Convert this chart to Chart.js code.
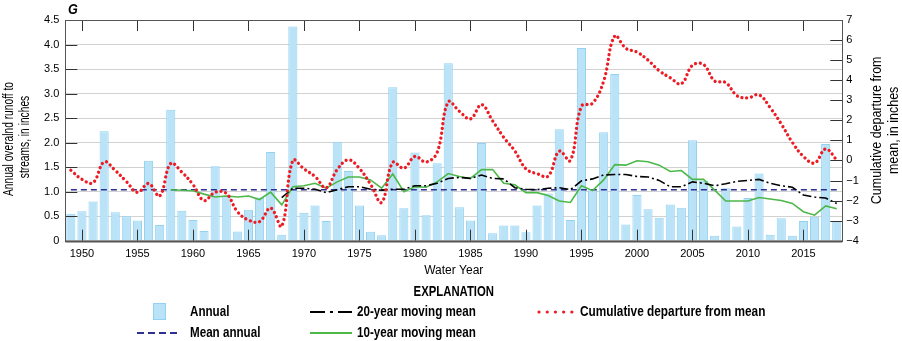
<!DOCTYPE html>
<html>
<head>
<meta charset="utf-8">
<script src="https://cdn.jsdelivr.net/npm/chart.js@4.4.1/dist/chart.umd.min.js"></script>
<style>
  html, body { margin: 0; padding: 0; background: #fff; }
  #runoffChart { display: block; }
</style>
</head>
<body>
<canvas id="runoffChart" width="902" height="341"></canvas>
<script>
const FONT = "'Liberation Sans', Arial, sans-serif";

// Water years on the x axis
const years = [
  1949, 1950, 1951, 1952, 1953, 1954, 1955, 1956, 1957, 1958,
  1959, 1960, 1961, 1962, 1963, 1964, 1965, 1966, 1967, 1968,
  1969, 1970, 1971, 1972, 1973, 1974, 1975, 1976, 1977, 1978,
  1979, 1980, 1981, 1982, 1983, 1984, 1985, 1986, 1987, 1988,
  1989, 1990, 1991, 1992, 1993, 1994, 1995, 1996, 1997, 1998,
  1999, 2000, 2001, 2002, 2003, 2004, 2005, 2006, 2007, 2008,
  2009, 2010, 2011, 2012, 2013, 2014, 2015, 2016, 2017, 2018
];

// Annual overland runoff to streams, inches
const annualRunoff = [
  0.55, 0.60, 0.80, 2.23, 0.58, 0.50, 0.41, 1.63, 0.32, 2.67,
  0.61, 0.42, 0.20, 1.52, 0.90, 0.19, 0.63, 0.88, 1.81, 0.12,
  4.37, 0.57, 0.72, 0.40, 2.02, 1.42, 0.72, 0.18, 0.11, 3.13,
  0.66, 1.80, 0.52, 1.58, 3.62, 0.68, 0.41, 1.99, 0.15, 0.31,
  0.31, 0.17, 0.72, 0.96, 2.27, 0.42, 3.93, 1.03, 2.21, 3.40,
  0.33, 0.93, 0.64, 0.47, 0.74, 0.67, 2.05, 1.22, 0.10, 1.07,
  0.29, 0.87, 1.37, 0.12, 0.46, 0.10, 0.40, 0.49, 1.97, 0.40
];

const meanAnnual = 1.04;

// 10-year moving mean (first value 1958)
const movingMean10 = [
  null, null, null, null, null, null, null, null, null, 1.04,
  1.03, 1.02, 0.95, 0.89, 0.91, 0.89, 0.91, 0.84, 0.99, 0.73,
  1.10, 1.12, 1.17, 1.07, 1.20, 1.30, 1.30, 1.24, 1.07, 1.36,
  1.00, 1.10, 1.09, 1.20, 1.37, 1.31, 1.27, 1.45, 1.45, 1.17,
  1.14, 0.98, 0.98, 0.92, 0.81, 0.78, 1.12, 1.02, 1.24, 1.55,
  1.54, 1.63, 1.61, 1.54, 1.41, 1.43, 1.25, 1.25, 1.03, 0.81,
  0.81, 0.81, 0.88, 0.85, 0.82, 0.76, 0.59, 0.52, 0.71, 0.65
];

// 20-year moving mean (first value 1968)
const movingMean20 = [
  null, null, null, null, null, null, null, null, null, null,
  null, null, null, null, null, null, null, null, null, 0.88,
  1.07, 1.07, 1.05, 0.98, 1.04, 1.10, 1.10, 1.05, 1.03, 1.05,
  1.05, 1.12, 1.12, 1.17, 1.27, 1.29, 1.27, 1.34, 1.27, 1.26,
  1.08, 1.05, 1.04, 1.07, 1.08, 1.04, 1.22, 1.26, 1.34, 1.35,
  1.35, 1.31, 1.30, 1.23, 1.10, 1.10, 1.20, 1.17, 1.12, 1.16,
  1.21, 1.23, 1.25, 1.17, 1.12, 1.09, 0.93, 0.89, 0.87, 0.76
];

// Cumulative departure from mean, inches (right axis)
const cumDeparture = [
  -0.49, -0.94, -1.11, -0.07, -0.50, -1.05, -1.59, -1.15, -1.77, -0.15,
  -0.58, -1.20, -2.00, -1.58, -1.64, -2.55, -2.97, -3.05, -2.37, -3.28,
   0.00, -0.42, -0.80, -1.36, -0.45,  0.03, -0.40, -1.19, -2.09, -0.10,
  -0.39,  0.20, -0.08,  0.40,  2.92,  2.45,  2.07,  2.78,  1.97,  1.15,
   0.47, -0.42, -0.66, -0.78,  0.46,  0.00,  2.70,  2.85,  3.95,  6.20,
   5.59,  5.40,  5.00,  4.47,  4.12,  3.82,  4.74,  4.78,  3.96,  3.88,
   3.23,  3.12,  3.27,  2.63,  1.82,  0.90,  0.20, -0.13,  0.57,  0.02
];

const leftTicks = [0, 0.5, 1.0, 1.5, 2.0, 2.5, 3.0, 3.5, 4.0, 4.5];
const rightTicks = [-4, -3, -2, -1, 0, 1, 2, 3, 4, 5, 6, 7];

const colors = {
  barFill: '#bae3f8',
  barEdge: '#93d2f1',
  mean: '#2e3192',
  mean20: '#000000',
  mean10: '#4cb848',
  cum: '#ed1c24',
  frame: '#555555',
  grid: '#d2d2d2'
};

// text squeezed horizontally to get a condensed face
function narrowText(ctx, text, x, y, font, align, sx, angle) {
  ctx.save();
  ctx.font = font;
  ctx.textAlign = align;
  ctx.textBaseline = 'middle';
  ctx.translate(x, y);
  if (angle) ctx.rotate(angle);
  ctx.scale(sx, 1);
  ctx.fillText(text, 0, 0);
  ctx.restore();
}

// Frame, inward tick marks, titles and the explanation block
const decorations = {
  id: 'decorations',
  afterDatasetsDraw(chart) {
    const ctx = chart.ctx;
    const area = chart.chartArea;
    const x = chart.scales.x;
    const y = chart.scales.y;
    const y2 = chart.scales.y2;
    ctx.save();

    // tick marks pointing into the plot
    ctx.strokeStyle = '#333';
    ctx.lineWidth = 1;
    ctx.beginPath();
    years.forEach((yr, i) => {
      if (yr % 5 !== 0) return;
      const px = Math.round(x.getPixelForValue(i)) + 0.5;
      ctx.moveTo(px, area.top); ctx.lineTo(px, area.top + 11);
      ctx.moveTo(px, area.bottom); ctx.lineTo(px, area.bottom - 11);
    });
    leftTicks.forEach(v => {
      const py = Math.round(y.getPixelForValue(v)) + 0.5;
      ctx.moveTo(area.left, py); ctx.lineTo(area.left + 12, py);
    });
    rightTicks.forEach(v => {
      const py = Math.round(y2.getPixelForValue(v)) + 0.5;
      ctx.moveTo(area.right, py); ctx.lineTo(area.right - 12, py);
    });
    ctx.stroke();

    // plot frame
    ctx.strokeStyle = colors.frame;
    ctx.lineWidth = 1;
    ctx.strokeRect(Math.round(area.left) + 0.5, Math.round(area.top) + 0.5,
      Math.round(area.right - area.left), Math.round(area.bottom - area.top));
    ctx.lineWidth = 2;
    ctx.beginPath();
    ctx.moveTo(area.left, Math.round(area.bottom) + 0.5);
    ctx.lineTo(area.right, Math.round(area.bottom) + 0.5);
    ctx.stroke();

    ctx.fillStyle = '#000';

    // panel letter
    narrowText(ctx, 'G', 68, 10, 'italic bold 14px ' + FONT, 'left', 0.9);

    // axis titles
    const midY = (area.top + area.bottom) / 2;
    const up = -Math.PI / 2;
    narrowText(ctx, 'Annual overalnd runoff to', 9, 139, '14px ' + FONT, 'center', 0.73, up);
    narrowText(ctx, 'streams, in inches', 25, 137, '14px ' + FONT, 'center', 0.73, up);
    narrowText(ctx, 'Cumulative departure from', 877, midY, '14.5px ' + FONT, 'center', 0.86, up);
    narrowText(ctx, 'mean, in inches', 894, midY, '14.5px ' + FONT, 'center', 0.86, up);

    narrowText(ctx, 'Water Year', (area.left + area.right) / 2, 271, '12px ' + FONT, 'center', 1);

    // explanation
    const bold = 'bold 14px ' + FONT;
    const sx = 0.83;
    narrowText(ctx, 'EXPLANATION', (area.left + area.right) / 2, 292, bold, 'center', 0.81);

    const row1 = 312, row2 = 333;
    narrowText(ctx, 'Annual', 190, row1, bold, 'left', sx);
    narrowText(ctx, 'Mean annual', 190, row2, bold, 'left', sx);
    narrowText(ctx, '20-year moving mean', 357, row1, bold, 'left', sx);
    narrowText(ctx, '10-year moving mean', 357, row2, bold, 'left', sx);
    narrowText(ctx, 'Cumulative departure from mean', 580, row1, bold, 'left', 0.845);

    // swatches
    ctx.fillStyle = colors.barFill;
    ctx.fillRect(153, 303, 13, 17);
    ctx.strokeStyle = colors.barEdge;
    ctx.lineWidth = 1;
    ctx.strokeRect(153.5, 303.5, 12, 16);

    const swatchLine = (x0, x1, yy, color, width, dash, cap) => {
      ctx.beginPath();
      ctx.strokeStyle = color;
      ctx.lineWidth = width;
      ctx.setLineDash(dash);
      ctx.lineCap = cap || 'butt';
      ctx.moveTo(x0, yy);
      ctx.lineTo(x1, yy);
      ctx.stroke();
    };
    swatchLine(137, 177, row2, colors.mean, 1.8, [7, 4]);
    swatchLine(310, 352, row1, colors.mean20, 1.8, [15, 5, 3, 5]);
    swatchLine(310, 352, row2, colors.mean10, 1.8, []);
    swatchLine(539, 572, row1, colors.cum, 3.2, [0.01, 8.2], 'round');
    ctx.setLineDash([]);

    ctx.restore();
  }
};

const ctx = document.getElementById('runoffChart').getContext('2d');

new Chart(ctx, {
  data: {
    labels: years,
    datasets: [
      {
        type: 'line',
        label: 'Cumulative departure from mean',
        data: cumDeparture,
        yAxisID: 'y2',
        borderColor: colors.cum,
        borderWidth: 3.3,
        borderDash: [0.01, 4.8],
        borderCapStyle: 'round',
        tension: 0.4,
        pointRadius: 0,
        order: 1
      },
      {
        type: 'line',
        label: '20-year moving mean',
        data: movingMean20,
        yAxisID: 'y',
        borderColor: colors.mean20,
        borderWidth: 1.6,
        borderDash: [9, 3, 2, 3],
        pointRadius: 0,
        order: 2
      },
      {
        type: 'line',
        label: '10-year moving mean',
        data: movingMean10,
        yAxisID: 'y',
        borderColor: colors.mean10,
        borderWidth: 1.6,
        pointRadius: 0,
        order: 3
      },
      {
        type: 'line',
        label: 'Mean annual',
        data: years.map(() => meanAnnual),
        yAxisID: 'y',
        borderColor: colors.mean,
        borderWidth: 1.6,
        borderDash: [6, 4],
        pointRadius: 0,
        order: 4
      },
      {
        type: 'bar',
        label: 'Annual',
        data: annualRunoff,
        yAxisID: 'y',
        backgroundColor: colors.barFill,
        borderColor: colors.barEdge,
        borderWidth: 1,
        barPercentage: 0.82,
        categoryPercentage: 1.0,
        order: 10
      }
    ]
  },
  options: {
    responsive: false,
    animation: false,
    devicePixelRatio: 1,
    layout: { padding: { top: 20, left: 0, right: 0, bottom: 0 } },
    plugins: {
      legend: { display: false },
      tooltip: { enabled: false }
    },
    scales: {
      x: {
        type: 'category',
        offset: true,
        grid: { display: false, drawTicks: false },
        border: { display: false },
        ticks: {
          autoSkip: false,
          maxRotation: 0,
          padding: 7,
          color: '#000',
          font: { family: FONT, size: 11 },
          callback: function (value, index) {
            const yr = years[index];
            return yr % 5 === 0 ? String(yr) : null;
          }
        },
        afterFit: function (scale) { scale.height = 100.3; }
      },
      y: {
        position: 'left',
        min: 0,
        max: 4.5,
        grid: { color: colors.grid, lineWidth: 1, drawTicks: false },
        border: { display: false },
        ticks: {
          stepSize: 0.5,
          padding: 6,
          color: '#000',
          font: { family: FONT, size: 11 },
          callback: v => (v === 0 ? '0' : v.toFixed(1))
        },
        afterFit: function (scale) { scale.width = 65.3; }
      },
      y2: {
        position: 'right',
        min: -4,
        max: 7,
        grid: { display: false, drawTicks: false },
        border: { display: false },
        ticks: {
          stepSize: 1,
          padding: 4,
          color: '#000',
          font: { family: FONT, size: 11 },
          callback: v => (v < 0 ? '\u2212' + Math.abs(v) : String(v))
        },
        afterFit: function (scale) { scale.width = 59.7; }
      }
    }
  },
  plugins: [decorations]
});
</script>
</body>
</html>
